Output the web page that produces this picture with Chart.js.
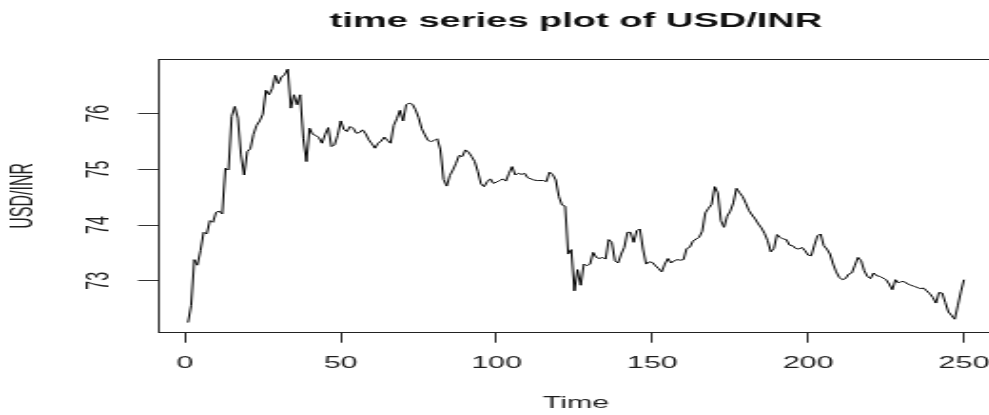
<!DOCTYPE html>
<html>
<head>
<meta charset="utf-8">
<title>time series plot of USD/INR</title>
<script src="https://cdn.jsdelivr.net/npm/chart.js@4/dist/chart.umd.min.js"></script>
<style>
  html, body { margin: 0; padding: 0; background: #ffffff; overflow: hidden; }
  /* drawn on a narrow canvas and shown wide, giving the stretched R-device look;
     the right edge of the plot frame runs just past the window */
  #tsChart { display: block; width: 994.7px !important; height: 415px !important; }
</style>
</head>
<body>
<canvas id="tsChart" width="523" height="415" style="width:994.7px;height:415px"></canvas>
<script>
// Daily USD/INR exchange rate, observations 1..250
const usdInr = [
  72.25, 72.56, 73.38, 73.28, 73.54, 73.87, 73.84, 74.08, 74.05, 74.23,
  74.25, 74.20, 75.02, 74.99, 75.95, 76.13, 75.92, 75.26, 74.90, 75.32,
  75.37, 75.63, 75.79, 75.87, 75.99, 76.42, 76.34, 76.45, 76.69, 76.54,
  76.66, 76.70, 76.80, 76.10, 76.34, 76.16, 76.34, 75.56, 75.14, 75.74,
  75.63, 75.61, 75.57, 75.47, 75.63, 75.75, 75.41, 75.44, 75.61, 75.87,
  75.72, 75.68, 75.77, 75.74, 75.65, 75.66, 75.71, 75.64, 75.53, 75.46,
  75.38, 75.47, 75.51, 75.58, 75.52, 75.47, 75.79, 75.91, 76.06, 75.87,
  76.16, 76.19, 76.17, 76.07, 75.93, 75.73, 75.62, 75.52, 75.50, 75.52,
  75.55, 75.35, 74.82, 74.70, 74.89, 74.99, 75.11, 75.25, 75.23, 75.35,
  75.31, 75.23, 75.14, 74.96, 74.74, 74.69, 74.78, 74.83, 74.75, 74.77,
  74.80, 74.83, 74.79, 74.93, 75.05, 74.90, 74.93, 74.91, 74.93, 74.85,
  74.83, 74.81, 74.80, 74.80, 74.80, 74.78, 74.95, 74.91, 74.81, 74.51,
  74.36, 74.34, 73.48, 73.56, 72.82, 73.20, 72.92, 73.30, 73.27, 73.30,
  73.51, 73.42, 73.40, 73.42, 73.39, 73.74, 73.69, 73.36, 73.32, 73.48,
  73.60, 73.87, 73.87, 73.69, 73.90, 73.93, 73.57, 73.30, 73.34, 73.33,
  73.27, 73.22, 73.16, 73.30, 73.40, 73.32, 73.36, 73.38, 73.37, 73.38,
  73.58, 73.60, 73.71, 73.75, 73.78, 73.89, 74.22, 74.30, 74.37, 74.69,
  74.58, 74.08, 73.96, 74.16, 74.25, 74.40, 74.66, 74.58, 74.51, 74.39,
  74.26, 74.18, 74.11, 74.02, 73.95, 73.85, 73.72, 73.52, 73.58, 73.83,
  73.78, 73.75, 73.74, 73.64, 73.63, 73.58, 73.57, 73.60, 73.54, 73.46,
  73.45, 73.64, 73.81, 73.84, 73.63, 73.57, 73.48, 73.30, 73.16, 73.06,
  73.02, 73.04, 73.12, 73.14, 73.28, 73.42, 73.36, 73.18, 73.08, 73.04,
  73.14, 73.09, 73.08, 73.05, 73.02, 72.94, 72.84, 73.02, 72.96, 72.99,
  72.98, 72.94, 72.92, 72.90, 72.88, 72.86, 72.87, 72.82, 72.77, 72.70,
  72.60, 72.79, 72.78, 72.61, 72.44, 72.38, 72.31, 72.55, 72.80, 73.02
];

// time index of each observation (1, 2, ..., n)
const timeIndex = usdInr.map((_, i) => i + 1);

// axis tick labels
const timeTicks = [0, 50, 100, 150, 200, 250];
const rateTicks = [73, 74, 75, 76];

// base-graphics style range: data range widened by 4% on each side
function paddedRange(arr) {
  const lo = Math.min(...arr), hi = Math.max(...arr);
  const d = (hi - lo) * 0.04;
  return [lo - d, hi + d];
}
const [xMin, xMax] = paddedRange(timeIndex);
const [yMin, yMax] = paddedRange(usdInr);

const textColor = '#1e1e1e';
const fontFamily = '"Liberation Sans", Arial, Helvetica, sans-serif';

// frame around the plotting region
const plotFrame = {
  id: 'plotFrame',
  afterDraw(chart) {
    const { ctx, chartArea: a } = chart;
    const l = Math.round(a.left) + 0.5, t = Math.round(a.top) + 0.5;
    const r = Math.round(a.right) - 0.5, b = Math.round(a.bottom) - 0.5;
    ctx.save();
    ctx.strokeStyle = '#222';
    ctx.lineWidth = 1;
    ctx.strokeRect(l, t, r - l, b - t);
    ctx.restore();
  }
};

const canvas = document.getElementById('tsChart');
const chart = new Chart(canvas, {
  type: 'line',
  data: {
    datasets: [{
      label: 'USD/INR',
      data: usdInr.map((v, i) => ({ x: timeIndex[i], y: v })),
      borderColor: '#000000',
      borderWidth: 1,
      pointRadius: 0,
      tension: 0,
      fill: false
    }]
  },
  options: {
    responsive: false,
    devicePixelRatio: 1,
    animation: false,
    events: [],
    layout: { padding: 0 },
    plugins: {
      legend: { display: false },
      tooltip: { enabled: false },
      title: {
        display: true,
        text: 'time series plot of USD/INR',
        fullSize: false,
        color: '#111',
        font: { family: fontFamily, size: 20, weight: 'bold', lineHeight: 1.2 },
        padding: { top: 9.5, bottom: 25.5 }
      }
    },
    scales: {
      x: {
        type: 'linear',
        min: xMin,
        max: xMax,
        afterBuildTicks: s => { s.ticks = timeTicks.map(v => ({ value: v })); },
        afterFit: s => { s.height = 82.3; s.paddingLeft = 0; s.paddingRight = 0; },
        border: { display: false },
        grid: { drawOnChartArea: false, drawTicks: true, tickLength: 10, color: '#333', lineWidth: 1 },
        ticks: {
          color: textColor,
          padding: 11.5,
          maxRotation: 0,
          autoSkip: false,
          font: { family: fontFamily, size: 16 },
          callback: v => String(v)
        },
        title: {
          display: true,
          text: 'Time',
          color: textColor,
          font: { family: fontFamily, size: 16, lineHeight: 1.2 },
          padding: { top: 0, bottom: 1.5 }
        }
      },
      y: {
        type: 'linear',
        min: yMin,
        max: yMax,
        afterBuildTicks: s => { s.ticks = rateTicks.map(v => ({ value: v })); },
        afterFit: s => { s.width = 82.5; s.paddingTop = 0; s.paddingBottom = 0; },
        border: { display: false },
        grid: { drawOnChartArea: false, drawTicks: true, tickLength: 10, color: '#333', lineWidth: 1 },
        ticks: {
          color: textColor,
          minRotation: 90,
          maxRotation: 90,
          crossAlign: 'center',
          padding: 11.5,
          autoSkip: false,
          font: { family: fontFamily, size: 16 },
          callback: v => String(v)
        },
        title: {
          display: true,
          text: 'USD/INR',
          color: textColor,
          font: { family: fontFamily, size: 16, lineHeight: 1.2 },
          padding: { top: 3, bottom: 0 }
        }
      }
    }
  },
  plugins: [plotFrame]
});
// keep the wide display size on the canvas element
canvas.style.width = '994.7px';
canvas.style.height = '415px';
</script>
</body>
</html>
